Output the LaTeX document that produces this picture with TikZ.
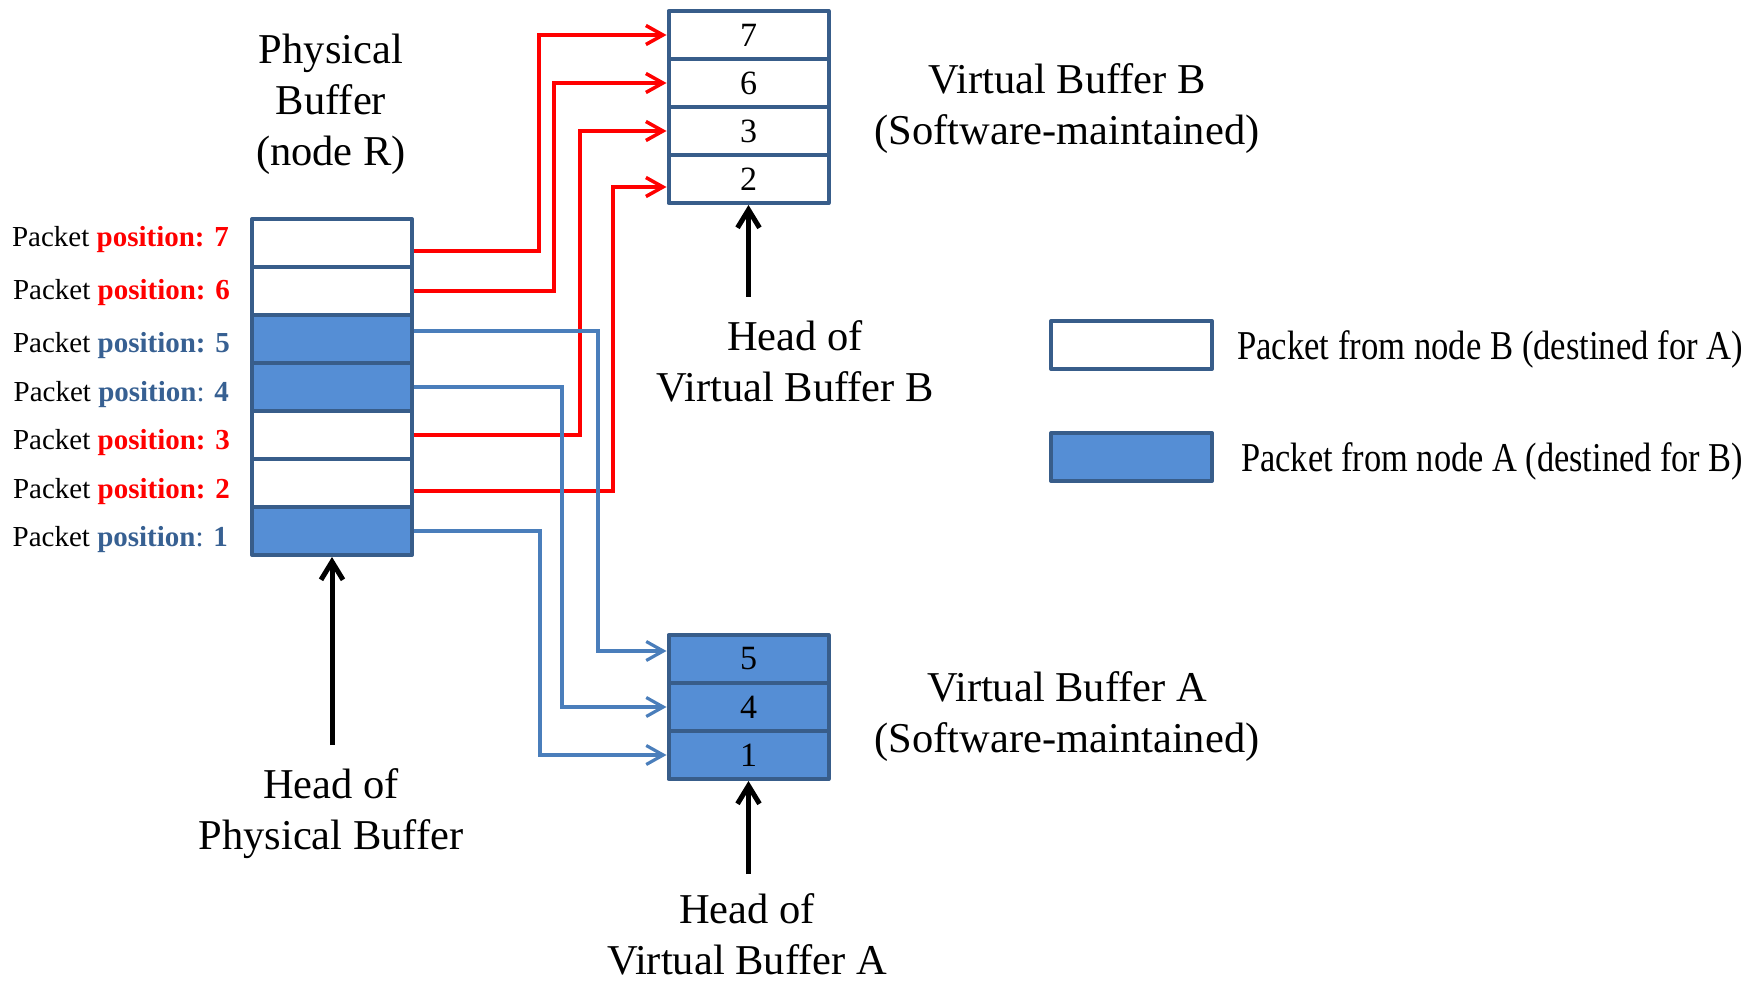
\documentclass[tikz,border=0pt]{standalone}
\usepackage{fontspec}
\setmainfont{Liberation Serif}
\usepackage{graphicx}
\usetikzlibrary{arrows.meta}

\definecolor{edge}{HTML}{385D8A}
\definecolor{cellblue}{HTML}{558ED5}
\definecolor{linkblue}{HTML}{4A7EBB}
\definecolor{textblue}{HTML}{376092}
\definecolor{linkred}{HTML}{FF0000}

\begin{document}
\begin{tikzpicture}[x=1pt,y=-1pt,
  cell/.style={draw=edge, line width=4pt, line join=round, minimum width=160pt,
    minimum height=48pt, inner sep=0pt, font=\fontsize{34}{40}\selectfont},
  emptycell/.style={cell, fill=white},
  fullcell/.style={cell, fill=cellblue},
  redlink/.style={draw=linkred, line width=3.5pt,
    -{Straight Barb[length=17pt,width=19pt]}},
  bluelink/.style={draw=linkblue, line width=3.2pt,
    -{Straight Barb[length=17pt,width=19pt]}},
  headarrow/.style={draw=black, line width=5pt,
    -{Straight Barb[length=18pt,width=22pt]}},
  title/.style={align=center, inner sep=0pt, font=\fontsize{42.5}{51}\selectfont},
  poslabel/.style={anchor=base east, inner sep=0pt, font=\fontsize{29}{34}\selectfont},
  legendtext/.style={anchor=base west, inner sep=0pt, font=\fontsize{41}{50}\selectfont}]

\useasboundingbox (0,0) rectangle (1756,981);

% physical buffer (node R)
\node[emptycell] (p7) at (332,243) {};
\node[emptycell] (p6) at (332,291) {};
\node[fullcell]  (p5) at (332,339) {};
\node[fullcell]  (p4) at (332,387) {};
\node[emptycell] (p3) at (332,435) {};
\node[emptycell] (p2) at (332,483) {};
\node[fullcell]  (p1) at (332,531) {};

% virtual buffer B
\node[emptycell] (vb7) at (748.5,35) {7};
\node[emptycell] (vb6) at (748.5,83) {6};
\node[emptycell] (vb3) at (748.5,131) {3};
\node[emptycell] (vb2) at (748.5,179) {2};

% virtual buffer A
\node[fullcell] (va5) at (748.5,659) {5};
\node[fullcell] (va4) at (748.5,707) {4};
\node[fullcell] (va1) at (748.5,755) {1};

% packet position labels
\node[poslabel] (l7) at (229,247) {Packet \textcolor{linkred}{\textbf{position: 7}}};
\node[poslabel] (l6) at (230,300) {Packet \textcolor{linkred}{\textbf{position: 6}}};
\node[poslabel] (l5) at (230,353) {Packet \textcolor{textblue}{\textbf{position: 5}}};
\node[poslabel] (l4) at (229,401) {Packet \textcolor{textblue}{\textbf{position}: \textbf{4}}};
\node[poslabel] (l3) at (230,449) {Packet \textcolor{linkred}{\textbf{position: 3}}};
\node[poslabel] (l2) at (230,498) {Packet \textcolor{linkred}{\textbf{position: 2}}};
\node[poslabel] (l1) at (228,546) {Packet \textcolor{textblue}{\textbf{position}: \textbf{1}}};

% titles
\node[title] (tp)  at (331,104) {Physical\\Buffer\\(node R)};
\node[title] (tvb) at (1067,109) {Virtual Buffer B\\(Software-maintained)};
\node[title] (tva) at (1067,717) {Virtual Buffer A\\(Software-maintained)};
\node[title] (hvb) at (795,361) {Head of\\Virtual Buffer B};
\node[title] (hp)  at (331,814) {Head of\\Physical Buffer};
\node[title] (hva) at (747,934) {Head of\\Virtual Buffer A};

% legend
\node[emptycell, minimum width=161pt] (lg1) at (1131.5,345) {};
\node[fullcell,  minimum width=161pt] (lg2) at (1131.5,457) {};
\node[legendtext] (lt1) at (1237,360) {\resizebox{506pt}{\height}{Packet from node B (destined for A)}};
\node[legendtext] (lt2) at (1241,471) {\resizebox{502pt}{\height}{Packet from node A (destined for B)}};

% bend points of the connectors
\coordinate (r7) at (539,35);
\coordinate (r6) at (554,83);
\coordinate (r3) at (580,131);
\coordinate (r2) at (613,187);
\coordinate (b5) at (598,651);
\coordinate (b4) at (562,707);
\coordinate (b1) at (540,755);

% packets from node B go to virtual buffer B
\draw[redlink] ([yshift=-8pt]p7.east) -| (r7) -- (vb7.west);
\draw[redlink] (p6.east) -| (r6) -- (vb6.west);
\draw[redlink] (p3.east) -| (r3) -- (vb3.west);
\draw[redlink] ([yshift=-8pt]p2.east) -| (r2) -- ([yshift=-8pt]vb2.west);

% packets from node A go to virtual buffer A
\draw[bluelink] ([yshift=8pt]p5.east) -| (b5) -- ([yshift=8pt]va5.west);
\draw[bluelink] (p4.east) -| (b4) -- (va4.west);
\draw[bluelink] (p1.east) -| (b1) -- (va1.west);

% head pointers
\coordinate (hpStart) at (332,745);
\coordinate (hvbStart) at (748.5,297);
\coordinate (hvaStart) at (748.5,874);
\draw[headarrow] (hpStart) -- (p1.south);
\draw[headarrow] (hvbStart) -- (vb2.south);
\draw[headarrow] (hvaStart) -- (va1.south);

\end{tikzpicture}
\end{document}
